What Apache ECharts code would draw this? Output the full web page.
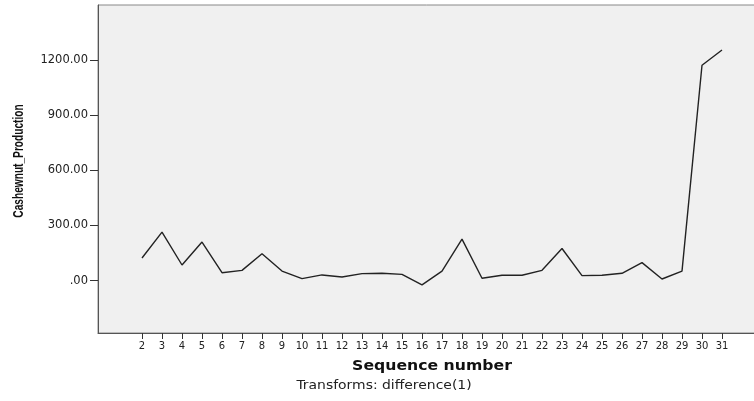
<!DOCTYPE html>
<html><head><meta charset="utf-8">
<script src="https://cdn.jsdelivr.net/npm/echarts@6/dist/echarts.min.js"></script>
<style>html,body{margin:0;padding:0;background:#fff}#c{width:754px;height:401px}</style>
</head><body><div id="c"></div>
<script>
const sequence = [2,3,4,5,6,7,8,9,10,11,12,13,14,15,16,17,18,19,20,21,22,23,24,25,26,27,28,29,30,31];
const production = [123,264,85,210,43,56,146,52,11,31,20,38,40,34,-23,52,226,13,29,29,56,175,27,29,40,98,9,52,1172,1255];
const yTicks = [0,300,600,900,1200];

const chart = echarts.init(document.getElementById('c'), null, {renderer:'canvas'});
chart.setOption({
  animation:false,
  backgroundColor:'#fff',
  grid:{left:98, top:5, width:662, height:328, outerBoundsMode:'none', containLabel:false,
    show:true, backgroundColor:'#f0f0f0', borderColor:'#888', borderWidth:1},
  xAxis:{type:'value', min:-0.2, max:32.9, splitLine:{show:false},
    axisLine:{show:true, onZero:false, lineStyle:{color:'#555'}},
    axisTick:{show:true, customValues:sequence, length:6, lineStyle:{color:'#333'}},
    axisLabel:{customValues:sequence, color:'#222', fontFamily:'DejaVu Sans', fontSize:10, margin:8}},
  yAxis:{type:'value', min:-285, max:1500, splitLine:{show:false},
    axisLine:{show:true, onZero:false, lineStyle:{color:'#555'}},
    axisTick:{show:true, customValues:yTicks, length:8, lineStyle:{color:'#333'}},
    axisLabel:{customValues:yTicks, color:'#222', fontFamily:'DejaVu Sans', fontSize:11.5, margin:10,
      formatter:v=> v===0 ? '.00' : v.toFixed(2)}},
  series:[{type:'line', data:sequence.map((s,i)=>[s,production[i]]), symbol:'none',
    lineStyle:{color:'#222', width:1.4}}],
  graphic:[
    {type:'text', x:19, y:161, rotation:Math.PI/2, scaleX:0.7,
      style:{text:'Cashewnut_Production', font:'bold 14.5px "Liberation Sans", sans-serif', fill:'#111', textAlign:'center', textVerticalAlign:'middle'}},
    {type:'text', x:432, y:366, scaleX:1.12,
      style:{text:'Sequence number', font:'bold 14px "DejaVu Sans", sans-serif', fill:'#111', textAlign:'center', textVerticalAlign:'middle'}},
    {type:'text', x:384, y:386, scaleX:1.16,
      style:{text:'Transforms: difference(1)', font:'12px "DejaVu Sans", sans-serif', fill:'#222', textAlign:'center', textVerticalAlign:'middle'}}
  ]
});
</script></body></html>
